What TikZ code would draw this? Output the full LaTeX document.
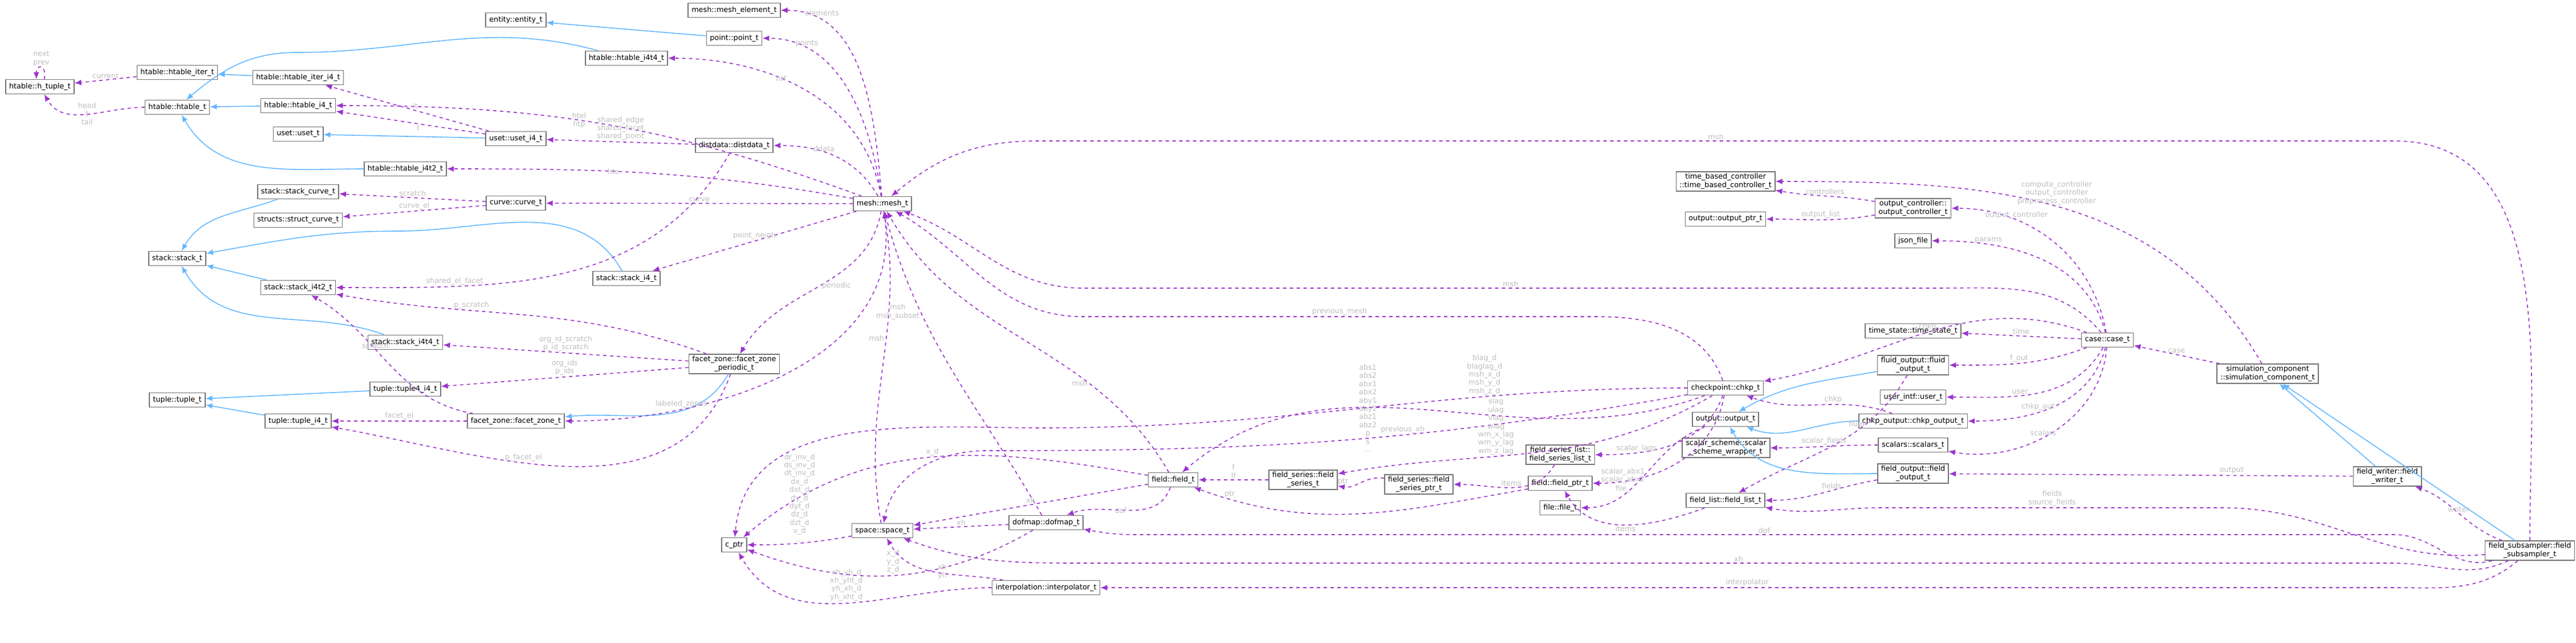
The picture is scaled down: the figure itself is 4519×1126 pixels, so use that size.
\documentclass[tikz,border=0pt]{standalone}
\usepackage{fontspec}
\setmainfont{DejaVu Sans}
\usetikzlibrary{arrows.meta}
\definecolor{usecol}{RGB}{154,50,205}
\definecolor{inhcol}{RGB}{99,184,255}
\definecolor{lblcol}{RGB}{190,190,190}
\begin{document}
\begin{tikzpicture}[
    x=0.5pt, y=-0.5pt,
    box/.style={rectangle, draw=black!55, thick, fill=white, minimum height=12.5pt, inner xsep=3pt, inner ysep=1.5pt, align=center, font=\fontsize{6.4}{7.6}\selectfont},
    use/.style={draw=usecol, thick, dashed, -{Latex[length=6pt,width=5pt]}},
    inh/.style={draw=inhcol, thick, -{Latex[length=6pt,width=5pt]}},
    lbl/.style={text=lblcol, align=center, inner sep=1pt, font=\fontsize{6.4}{7.2}\selectfont},
    ]
    \useasboundingbox (0,0) rectangle (4519,1126);
    %Nodes
    \node[box] at (70,152) (htuple) {htable::h\_tuple\_t};
    \node[box] at (311,127) (hiter) {htable::htable\_iter\_t};
    \node[box] at (311,188) (htable) {htable::htable\_t};
    \node[box] at (523,136) (hiteri4) {htable::htable\_iter\_i4\_t};
    \node[box] at (523,185) (hti4) {htable::htable\_i4\_t};
    \node[box] at (523,235) (uset) {uset::uset\_t};
    \node[box] at (711,296) (hti4t2) {htable::htable\_i4t2\_t};
    \node[box] at (523,336) (stcurve) {stack::stack\_curve\_t};
    \node[box] at (523,386) (scurve) {structs::struct\_curve\_t};
    \node[box] at (311,453) (stack) {stack::stack\_t};
    \node[box] at (523,504) (sti4t2) {stack::stack\_i4t2\_t};
    \node[box] at (711,600) (sti4t4) {stack::stack\_i4t4\_t};
    \node[box] at (711,682) (tup4) {tuple::tuple4\_i4\_t};
    \node[box] at (311,701) (tuple) {tuple::tuple\_t};
    \node[box] at (523,738) (tupi4) {tuple::tuple\_i4\_t};
    \node[box] at (1288,18) (meshel) {mesh::mesh\_element\_t};
    \node[box] at (905,35) (entity) {entity::entity\_t};
    \node[box] at (1288,67) (point) {point::point\_t};
    \node[box] at (1099,102) (hti4t4) {htable::htable\_i4t4\_t};
    \node[box] at (905,243) (useti4) {uset::uset\_i4\_t};
    \node[box] at (1288,255) (ddata) {distdata::distdata\_t};
    \node[box] at (905,356) (curve) {curve::curve\_t};
    \node[box] at (1548,357) (mesh) {mesh::mesh\_t};
    \node[box] at (1099,488) (sti4) {stack::stack\_i4\_t};
    \node[box] at (1288,638) (fzp) {facet\_zone::facet\_zone\\\_periodic\_t};
    \node[box] at (905,738) (fzone) {facet\_zone::facet\_zone\_t};
    \node[box] at (1288,955) (cptr) {c\_ptr};
    \node[box] at (1548,930) (space) {space::space\_t};
    \node[box] at (2058,841) (field) {field::field\_t};
    \node[box] at (2286,841) (fseries) {field\_series::field\\\_series\_t};
    \node[box] at (1835,916) (dofmap) {dofmap::dofmap\_t};
    \node[box] at (1835,1030) (interp) {interpolation::interpolator\_t};
    \node[box] at (3027,318) (tbc) {time\_based\_controller\\::time\_based\_controller\_t};
    \node[box] at (3027,384) (outptr) {output::output\_ptr\_t};
    \node[box] at (3027,680) (chkp) {checkpoint::chkp\_t};
    \node[box] at (3027,735) (output) {output::output\_t};
    \node[box] at (3028,785) (sscheme) {scalar\_scheme::scalar\\\_scheme\_wrapper\_t};
    \node[box] at (2737,797) (fslist) {field\_series\_list::\\field\_series\_list\_t};
    \node[box] at (2489,849) (fsptr) {field\_series::field\\\_series\_ptr\_t};
    \node[box] at (2737,847) (fieldptr) {field::field\_ptr\_t};
    \node[box] at (2737,890) (file) {file::file\_t};
    \node[box] at (3027,877) (flist) {field\_list::field\_list\_t};
    \node[box] at (3356,365) (octrl) {output\_controller::\\output\_controller\_t};
    \node[box] at (3356,422) (json) {json\_file};
    \node[box] at (3356,580) (tstate) {time\_state::time\_state\_t};
    \node[box] at (3697,596) (case) {case::case\_t};
    \node[box] at (3356,640) (fout) {fluid\_output::fluid\\\_output\_t};
    \node[box] at (3356,696) (user) {user\_intf::user\_t};
    \node[box] at (3356,738) (chkpout) {chkp\_output::chkp\_output\_t};
    \node[box] at (3356,780) (scalars) {scalars::scalars\_t};
    \node[box] at (3356,830) (fieldout) {field\_output::field\\\_output\_t};
    \node[box] at (3978,655) (simcomp) {simulation\_component\\::simulation\_component\_t};
    \node[box] at (4188,835) (fwriter) {field\_writer::field\\\_writer\_t};
    \node[box] at (4438,965) (subs) {field\_subsampler::field\\\_subsampler\_t};

    %Inheritance
    \draw[inh] (hiteri4) -- (hiter);
    \draw[inh] (hti4) -- (htable);
    \draw[inh] (hti4t4) to[out=165,in=0] (520,92) to[out=180,in=40] (htable);
    \draw[inh] (hti4t2) to[out=180,in=-60] (htable);
    \draw[inh] (useti4) -- (uset);
    \draw[inh] (point) -- (entity);
    \draw[inh] (stcurve) to[out=200,in=60] (stack);
    \draw[inh] (sti4t2) -- (stack);
    \draw[inh] (sti4t4) to[out=160,in=-60] (stack);
    \draw[inh] (sti4) to[out=120,in=0] (700,405) to[out=180,in=10] (stack);
    \draw[inh] (tup4) -- (tuple);
    \draw[inh] (tupi4) -- (tuple);
    \draw[inh] (fzp) to[out=-120,in=5] (fzone);
    \draw[inh] (chkpout) to[out=180,in=-20] (output);
    \draw[inh] (fout) to[out=190,in=30] (output);
    \draw[inh] (fieldout) to[out=180,in=-60] (output);
    \draw[inh] (fwriter) -- (simcomp);
    \draw[inh] (subs) -- (simcomp);

    %Members
    \draw[use] (hiter) -- node[lbl,above]{current} (htuple);
    \draw[use] (htable) to[out=180,in=-60] node[lbl]{head\\t\\tail} (htuple);
    \draw[use] (htuple.60) to[out=80,in=90,looseness=5] node[lbl,above]{next\\prev} (htuple.115);
    \draw[use] (useti4) -- node[lbl,above,pos=.45]{it} (hiteri4);
    \draw[use] (useti4) -- node[lbl,below,pos=.45]{t} (hti4);
    \draw[use] (mesh) to[out=160,in=0] node[lbl,pos=.55]{htel\\htp} (hti4);
    \draw[use] (mesh) to[out=170,in=0] node[lbl,pos=.6]{hte} (hti4t2);
    \draw[use] (mesh) to[out=100,in=0] node[lbl,pos=.6]{htf} (hti4t4);
    \draw[use] (mesh) to[out=95,in=0] node[lbl,pos=.9,right]{elements} (meshel);
    \draw[use] (mesh) to[out=98,in=0] node[lbl,pos=.85,right]{points} (point);
    \draw[use] (mesh) to[out=120,in=0] node[lbl,pos=.7,right]{ddata} (ddata);
    \draw[use] (ddata) -- node[lbl,above]{shared\_edge\\shared\_facet\\shared\_point} (useti4);
    \draw[use] (mesh) -- node[lbl,above]{curve} (curve);
    \draw[use] (curve) -- node[lbl,above]{scratch} (stcurve);
    \draw[use] (curve) -- node[lbl,above]{curve\_el} (scurve);
    \draw[use] (mesh) -- node[lbl,above,pos=.5]{point\_neigh} (sti4);
    \draw[use] (ddata) to[out=-120,in=0] node[lbl,pos=.75,above]{shared\_el\_facet} (sti4t2);
    \draw[use] (fzp) to[out=160,in=-10] node[lbl,pos=.65,above]{p\_scratch} (sti4t2);
    \draw[use] (fzone) to[out=170,in=-30] node[lbl,pos=.6,above]{scratch} (sti4t2);
    \draw[use] (fzp) -- node[lbl,above]{org\_id\_scratch\\p\_id\_scratch} (sti4t4);
    \draw[use] (fzp) -- node[lbl,above]{org\_ids\\p\_ids} (tup4);
    \draw[use] (fzp) to[out=-110,in=-10] node[lbl,pos=.6,above]{p\_facet\_el} (tupi4);
    \draw[use] (fzone) -- node[lbl,above]{facet\_el} (tupi4);
    \draw[use] (mesh) to[out=-100,in=60] node[lbl,pos=.5,right]{periodic} (fzp);
    \draw[use] (mesh) to[out=-80,in=0] node[lbl,pos=.75,above]{labeled\_zones} (fzone);
    \draw[use] (space) to[out=100,in=-80] node[lbl,pos=.6,left]{msh} (mesh);
    \draw[use] (dofmap) to[out=120,in=-75] node[lbl,pos=.7,left]{msh\\msh\_subset} (mesh);
    \draw[use] (field) to[out=120,in=-60] node[lbl,pos=.3,left]{msh} (mesh);
    \draw[use] (chkp) to[out=110,in=0] (2800,555) -- node[lbl,above]{previous\_mesh} (1900,555) to[out=180,in=-30] (mesh);
    \draw[use] (case) to[out=130,in=0] (3400,505) -- node[lbl,above]{msh} (1900,505) to[out=180,in=-20] (mesh);
    \draw[use] (subs) to[out=90,in=0] (4200,247) -- node[lbl,above]{msh} (1820,247) to[out=180,in=40] (mesh);
    \draw[use] (chkp) to[out=180,in=0] node[lbl,pos=.3,above]{blag\_d\\blaglag\_d\\msh\_x\_d\\msh\_y\_d\\msh\_z\_d} (1830,750) to[out=180,in=85] (cptr);
    \draw[use] (chkp) to[out=190,in=0] node[lbl,pos=.4,above]{previous\_xh} (1730,790) to[out=180,in=80] (space);
    \draw[use] (chkp) to[out=200,in=40] node[lbl,pos=.6,left]{abs1\\abs2\\abx1\\abx2\\aby1\\aby2\\abz1\\abz2\\p\\s\\...} (field);
    \draw[use] (chkp) to[out=210,in=10] node[lbl,pos=.6,above]{slag\\ulag\\vlag\\wlag\\wm\_x\_lag\\wm\_y\_lag\\wm\_z\_lag} (fseries);
    \draw[use] (chkp) to[out=-110,in=0] node[lbl,pos=.6,left]{scalar\_lags} (fslist);
    \draw[use] (chkp) to[out=-100,in=0] node[lbl,pos=.7,left]{scalar\_abx1\\scalar\_abx2} (fieldptr);
    \draw[use] (chkpout) to[out=160,in=-20] node[lbl,pos=.4,above]{chkp} (chkp);
    \draw[use] (output) to[out=200,in=0] node[lbl,pos=.7,above]{file\_} (file);
    \draw[use] (flist) to[out=-160,in=-60] node[lbl,pos=.5,below]{items} (fieldptr);
    \draw[use] (fslist) to[out=-120,in=0] node[lbl,pos=.5,above]{items} (fsptr);
    \draw[use] (fsptr) to[out=170,in=-10] node[lbl,pos=.9,above]{ptr} (fseries);
    \draw[use] (fseries) -- node[lbl,above]{f\\lf} (field);
    \draw[use] (fieldptr) to[out=190,in=-20] node[lbl,pos=.9,above]{ptr} (field);
    \draw[use] (field) -- node[lbl,above]{xh} (space);
    \draw[use] (field) to[out=-110,in=20] node[lbl,left]{dof} (dofmap);
    \draw[use] (field) to[out=170,in=40] node[lbl,pos=.5,above]{x\_d} (cptr);
    \draw[use] (dofmap) -- node[lbl,above]{xh} (space);
    \draw[use] (dofmap) to[out=-150,in=-20] node[lbl,pos=.5,above]{x\_d\\y\_d\\z\_d} (cptr);
    \draw[use] (space) to[out=190,in=0] node[lbl,pos=.5,above]{dr\_inv\_d\\ds\_inv\_d\\dt\_inv\_d\\dx\_d\\dxt\_d\\dy\_d\\dyt\_d\\dz\_d\\dzt\_d\\v\_d\\...} (cptr);
    \draw[use] (interp) to[out=180,in=-60] node[lbl,pos=.5,above]{xh\_yh\_d\\xh\_yht\_d\\yh\_xh\_d\\yh\_xht\_d} (cptr);
    \draw[use] (interp) to[out=170,in=-60] node[lbl,pos=.5,right]{xh\\yh} (space);
    \draw[use] (fout) to[out=-120,in=30] node[lbl,pos=.3,left]{fluid} (flist);
    \draw[use] (fieldout) to[out=190,in=0] node[lbl,pos=.4,above]{fields} (flist);
    \draw[use] (scalars) to[out=180,in=0] node[lbl,pos=.5,above]{scalar\_fields} (sscheme);
    \draw[use] (case) to[out=100,in=0] node[lbl,pos=.7,above]{output\_controller} (octrl);
    \draw[use] (case) to[out=105,in=0] node[lbl,pos=.75,above]{params} (json);
    \draw[use] (case) to[out=160,in=10] node[lbl,pos=.5,above]{chkp} (chkp);
    \draw[use] (case) -- node[lbl,above]{time} (tstate);
    \draw[use] (case) to[out=-160,in=0] node[lbl,above]{f\_out} (fout);
    \draw[use] (case) to[out=-120,in=0] node[lbl,pos=.6,above]{user} (user);
    \draw[use] (case) to[out=-105,in=0] node[lbl,pos=.6,above]{chkp\_out} (chkpout);
    \draw[use] (case) to[out=-95,in=-10] node[lbl,pos=.55,above]{scalars} (scalars);
    \draw[use] (octrl) to[out=170,in=-10] node[lbl,above]{controllers} (tbc);
    \draw[use] (octrl) to[out=190,in=0] node[lbl,above]{output\_list} (outptr);
    \draw[use] (simcomp) to[out=120,in=0] node[lbl,pos=.5,above]{compute\_controller\\output\_controller\\preprocess\_controller} (tbc);
    \draw[use] (simcomp) -- node[lbl,above]{case} (case);
    \draw[use] (fwriter) -- node[lbl,above,pos=.3]{output} (fieldout);
    \draw[use] (subs) to[out=160,in=-20] node[lbl,above]{writer} (fwriter);
    \draw[use] (subs) to[out=185,in=0] (3900,890) -- node[lbl,above]{fields\\source\_fields} (3300,890) to[out=180,in=-10] (flist);
    \draw[use] (subs) to[out=195,in=0] (4200,937) -- node[lbl,above]{dof} (1990,937) to[out=180,in=-10] (dofmap);
    \draw[use] (subs) to[out=205,in=0] (4200,987) -- node[lbl,above]{xh} (1900,987) to[out=180,in=-20] (space);
    \draw[use] (subs) to[out=220,in=0] (4200,1030) -- node[lbl,above]{interpolator} (interp);
\end{tikzpicture}
\end{document}
